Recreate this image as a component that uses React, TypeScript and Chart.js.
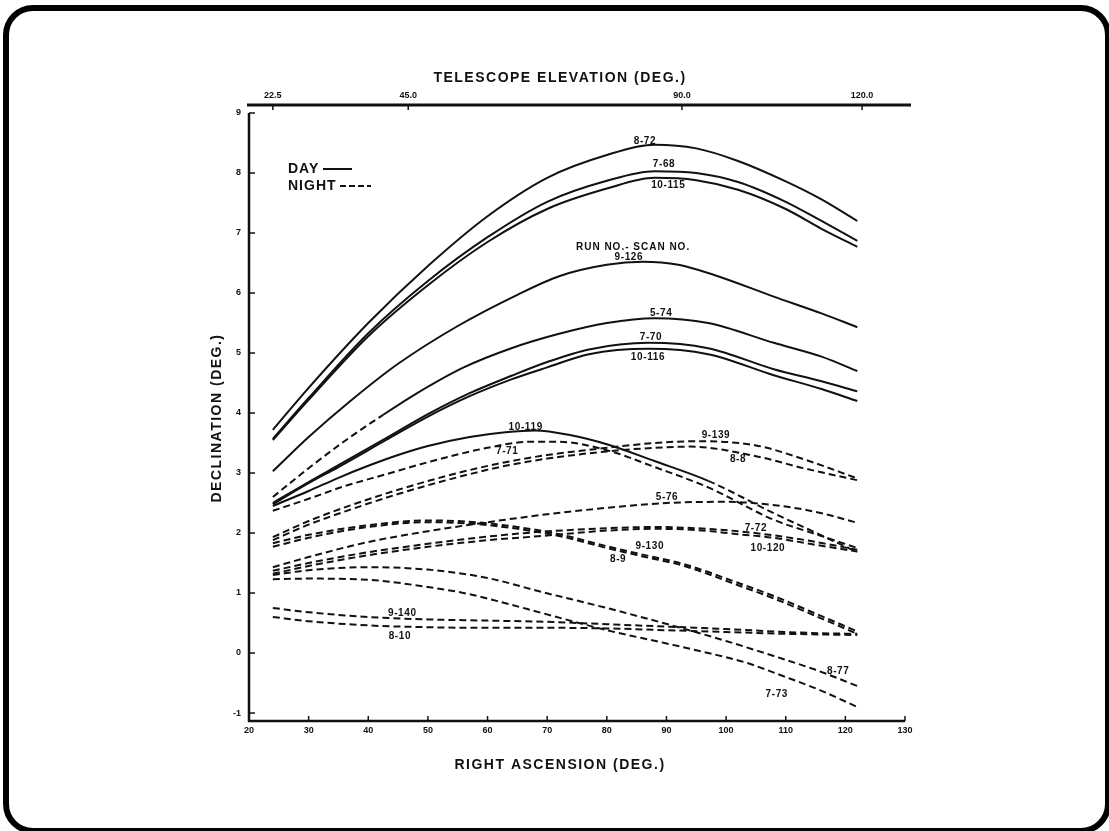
import React, { useEffect, useRef } from "react";
import { Chart, registerables } from "chart.js";

Chart.register(...registerables);

const FONT = "'Liberation Sans', Arial, sans-serif";
const INK = "#111";

// Axis ranges and ticks
const X_MIN = 20;
const X_MAX = 130;
const Y_MIN = -1.133;
const Y_MAX = 9.133;
const xTicks = [20, 30, 40, 50, 60, 70, 80, 90, 100, 110, 120, 130];
const yTicks = [-1, 0, 1, 2, 3, 4, 5, 6, 7, 8, 9];
// top axis (telescope elevation) tick positions in right-ascension units
const topTickRA = [24.0, 46.7, 92.6, 122.8];
const topTickLabels = ["22.5", "45.0", "90.0", "120.0"];

// Day curves (solid) : [right ascension, declination]
const s8_72 = [[24, 3.72], [30, 4.42], [40, 5.5], [50, 6.45], [60, 7.28], [70, 7.92], [80, 8.3], [88, 8.47], [95, 8.41], [102, 8.2], [110, 7.86], [116, 7.56], [122, 7.2]];
const s7_68 = [[24, 3.57], [30, 4.25], [40, 5.33], [50, 6.2], [60, 6.93], [70, 7.52], [80, 7.87], [88, 8.03], [95, 8.0], [102, 7.85], [110, 7.52], [116, 7.2], [122, 6.87]];
const s10_115 = [[24, 3.55], [30, 4.22], [40, 5.28], [50, 6.13], [60, 6.85], [70, 7.4], [80, 7.74], [88, 7.92], [95, 7.88], [102, 7.72], [110, 7.4], [116, 7.07], [122, 6.77]];
const s9_126 = [[24, 3.03], [30, 3.6], [37, 4.2], [45, 4.82], [55, 5.45], [65, 5.97], [72, 6.28], [80, 6.47], [86, 6.52], [92, 6.47], [98, 6.3], [108, 5.94], [116, 5.66], [122, 5.43]];
const s5_74 = [[24, 2.6], [30, 3.08], [36, 3.53], [42.5, 3.97], [48, 4.32], [56, 4.76], [64, 5.08], [72, 5.32], [80, 5.5], [88, 5.58], [97, 5.5], [108, 5.17], [116, 4.94], [122, 4.7]];
const s7_70 = [[24, 2.5], [30, 2.85], [35, 3.13], [43, 3.58], [50, 3.98], [57, 4.33], [64, 4.62], [70, 4.85], [77, 5.06], [87, 5.17], [97, 5.08], [108, 4.73], [116, 4.53], [122, 4.36]];
const s10_116 = [[24, 2.48], [30, 2.83], [35, 3.1], [43, 3.55], [50, 3.94], [57, 4.28], [64, 4.56], [70, 4.76], [77, 4.98], [87, 5.07], [97, 4.98], [108, 4.63], [116, 4.4], [122, 4.2]];
const s10_119 = [[24, 2.45], [30, 2.7], [35, 2.92], [40, 3.12], [45, 3.3], [50, 3.45], [57, 3.6], [63, 3.68], [68, 3.71], [74, 3.63], [80, 3.48], [88, 3.2], [97, 2.87], [108, 2.33], [116, 1.96], [122, 1.68]];

// Night curves (dashed)
const s7_71 = [[24, 2.37], [30, 2.57], [36, 2.78], [43, 2.98], [50, 3.18], [60, 3.42], [67, 3.52], [72, 3.52], [80, 3.38], [88, 3.1], [97, 2.76], [108, 2.22], [116, 1.95], [122, 1.75]];
const s9_139 = [[24, 1.93], [30, 2.2], [37, 2.46], [45, 2.72], [55, 3.0], [63, 3.18], [70, 3.3], [80, 3.42], [88, 3.5], [95, 3.53], [105, 3.46], [113, 3.23], [122, 2.91]];
const s8_8 = [[24, 1.88], [30, 2.14], [37, 2.39], [45, 2.65], [55, 2.93], [63, 3.12], [70, 3.24], [80, 3.36], [88, 3.42], [94, 3.44], [105, 3.28], [113, 3.08], [122, 2.88]];
const s5_76 = [[24, 1.43], [30, 1.6], [40, 1.85], [50, 2.03], [60, 2.18], [69, 2.3], [80, 2.42], [90, 2.5], [100, 2.52], [110, 2.44], [116, 2.33], [122, 2.17]];
const s7_72 = [[24, 1.37], [30, 1.5], [40, 1.68], [50, 1.82], [60, 1.94], [69, 2.02], [80, 2.08], [88, 2.1], [95, 2.08], [102, 2.03], [108, 1.96], [114, 1.87], [122, 1.72]];
const s10_120 = [[24, 1.32], [30, 1.45], [40, 1.63], [50, 1.77], [60, 1.88], [69, 1.95], [80, 2.04], [88, 2.07], [95, 2.05], [102, 1.98], [108, 1.92], [114, 1.82], [122, 1.69]];
const s9_130 = [[24, 1.83], [30, 1.97], [40, 2.13], [50, 2.21], [58, 2.18], [65, 2.1], [72, 1.98], [80, 1.78], [86, 1.64], [93, 1.48], [102, 1.17], [108, 0.95], [114, 0.7], [122, 0.36]];
const s8_9 = [[24, 1.77], [30, 1.92], [40, 2.1], [50, 2.18], [58, 2.15], [65, 2.07], [72, 1.95], [80, 1.75], [86, 1.61], [93, 1.45], [102, 1.13], [108, 0.91], [114, 0.66], [122, 0.32]];
const s8_77 = [[24, 1.3], [30, 1.38], [40, 1.43], [50, 1.39], [60, 1.25], [69, 1.02], [80, 0.75], [92, 0.43], [100, 0.2], [108, -0.05], [115, -0.28], [122, -0.55]];
const s7_73 = [[24, 1.23], [30, 1.24], [40, 1.22], [50, 1.1], [57, 0.98], [63, 0.83], [69, 0.67], [80, 0.38], [90, 0.16], [97, 0.0], [103, -0.15], [110, -0.4], [116, -0.63], [122, -0.9]];
const s9_140 = [[24, 0.75], [30, 0.68], [40, 0.6], [50, 0.56], [60, 0.54], [70, 0.52], [80, 0.48], [90, 0.44], [100, 0.4], [110, 0.35], [116, 0.33], [122, 0.32]];
const s8_10 = [[24, 0.6], [30, 0.53], [40, 0.46], [50, 0.43], [60, 0.42], [70, 0.42], [80, 0.41], [90, 0.38], [100, 0.35], [110, 0.32], [122, 0.3]];

// where day curves switch to night (dashed) portions
const DASH_BEFORE_5_74 = 42.5;
const DASH_AFTER_10_119 = 97;

const daySeries: [string, number[][]][] = [
  ["8-72", s8_72], ["7-68", s7_68], ["10-115", s10_115], ["9-126", s9_126],
  ["5-74", s5_74], ["7-70", s7_70], ["10-116", s10_116], ["10-119", s10_119],
];
const nightSeries: [string, number[][]][] = [
  ["7-71", s7_71], ["9-139", s9_139], ["8-8", s8_8], ["5-76", s5_76],
  ["7-72", s7_72], ["10-120", s10_120], ["9-130", s9_130], ["8-9", s8_9],
  ["8-77", s8_77], ["7-73", s7_73], ["9-140", s9_140], ["8-10", s8_10],
];

// Curve labels: text, right ascension, declination
const labelTexts = ["8-72", "7-68", "10-115", "RUN NO.- SCAN NO.", "9-126", "5-74", "7-70", "10-116", "10-119", "7-71", "9-139", "8-8", "5-76", "7-72", "10-120", "9-130", "8-9", "9-140", "8-10", "8-77", "7-73"];
const labelRA = [86.4, 89.6, 90.3, 84.4, 83.7, 89.1, 87.4, 86.9, 66.4, 63.3, 98.3, 102.0, 90.1, 105.0, 107.0, 87.2, 81.9, 45.7, 45.3, 118.8, 108.5];
const labelDec = [8.53, 8.15, 7.8, 6.77, 6.6, 5.67, 5.27, 4.93, 3.77, 3.37, 3.63, 3.23, 2.6, 2.08, 1.75, 1.78, 1.57, 0.67, 0.28, -0.3, -0.68];

const DASH = [7, 4];

function toXY(pts: number[][]) {
  return pts.map(([x, y]) => ({ x, y }));
}

function buildDatasets() {
  const ds: any[] = [];
  daySeries.forEach(([name, pts]) => {
    const d: any = {
      label: name,
      data: toXY(pts),
      borderColor: INK,
      borderWidth: 2,
      pointRadius: 0,
      fill: false,
      cubicInterpolationMode: "monotone",
      xAxisID: "x",
      yAxisID: "y",
    };
    if (name === "5-74") {
      d.segment = { borderDash: (c: any) => (c.p0.parsed.x < DASH_BEFORE_5_74 ? DASH : undefined) };
    }
    if (name === "10-119") {
      d.segment = { borderDash: (c: any) => (c.p0.parsed.x >= DASH_AFTER_10_119 ? DASH : undefined) };
    }
    ds.push(d);
  });
  nightSeries.forEach(([name, pts]) => {
    ds.push({
      label: name,
      data: toXY(pts),
      borderColor: INK,
      borderWidth: 2,
      borderDash: DASH,
      pointRadius: 0,
      fill: false,
      cubicInterpolationMode: "monotone",
      xAxisID: "x",
      yAxisID: "y",
    });
  });
  return ds;
}

const decorPlugin = {
  id: "decor",
  afterDatasetsDraw(chart: any) {
    const { ctx, chartArea } = chart;
    const { left, right, top, bottom } = chartArea;
    const x = chart.scales.x;
    const y = chart.scales.y;
    const line = (x1: number, y1: number, x2: number, y2: number) => {
      ctx.beginPath();
      ctx.moveTo(x1, y1);
      ctx.lineTo(x2, y2);
      ctx.stroke();
    };
    ctx.save();
    ctx.strokeStyle = INK;
    ctx.fillStyle = INK;
    ctx.setLineDash([]);
    // top elevation axis
    ctx.lineWidth = 3;
    line(left - 2, top, right + 6, top);
    ctx.lineWidth = 1.5;
    topTickRA.forEach((v) => {
      const px = x.getPixelForValue(v);
      line(px, top, px, top + 5);
    });
    // left axis
    ctx.lineWidth = 2.5;
    line(left, y.getPixelForValue(9), left, bottom + 1);
    // bottom axis
    line(left - 1, bottom, right, bottom);
    ctx.lineWidth = 1.5;
    yTicks.forEach((v) => {
      const py = y.getPixelForValue(v);
      line(left, py, left + 6, py);
    });
    xTicks.forEach((v) => {
      if (v === X_MIN) return;
      const px = x.getPixelForValue(v);
      line(px, bottom, px, bottom - 5);
    });

    // axis titles
    ctx.textAlign = "center";
    ctx.textBaseline = "middle";
    ctx.font = `bold 14px ${FONT}`;
    (ctx as any).letterSpacing = "1.5px";
    ctx.fillText("TELESCOPE ELEVATION (DEG.)", left + 311, top - 27);
    ctx.fillText("RIGHT ASCENSION (DEG.)", left + 311, bottom + 44);
    ctx.save();
    ctx.translate(left - 32, top + 313);
    ctx.rotate(-Math.PI / 2);
    ctx.fillText("DECLINATION (DEG.)", 0, 0);
    ctx.restore();

    // legend
    ctx.textAlign = "left";
    ctx.font = `bold 14px ${FONT}`;
    (ctx as any).letterSpacing = "1px";
    ctx.fillText("DAY", left + 39, top + 64);
    ctx.fillText("NIGHT", left + 39, top + 81);
    ctx.lineWidth = 2;
    line(left + 74, top + 64, left + 103, top + 64);
    ctx.setLineDash([6, 3]);
    line(left + 91, top + 81, left + 122, top + 81);
    ctx.setLineDash([]);

    // curve labels
    ctx.textAlign = "center";
    ctx.font = `bold 10px ${FONT}`;
    labelTexts.forEach((t, i) => {
      (ctx as any).letterSpacing = t.length > 8 ? "1px" : "0.6px";
      ctx.fillText(t, x.getPixelForValue(labelRA[i]), y.getPixelForValue(labelDec[i]));
    });
    (ctx as any).letterSpacing = "0px";
    ctx.restore();
  },
};

export default function App() {
  const ref = useRef<HTMLCanvasElement>(null);
  useEffect(() => {
    const canvas = ref.current;
    if (!canvas) return;
    const tickFont = { family: FONT, size: 9, weight: "bold" as const };
    const chart = new Chart(canvas, {
      type: "line",
      data: { datasets: buildDatasets() },
      options: {
        responsive: false,
        animation: false,
        devicePixelRatio: 1,
        layout: { padding: { left: 0, right: 204, top: 0, bottom: 0 } },
        plugins: {
          legend: { display: false },
          tooltip: { enabled: false },
          title: { display: false },
        },
        scales: {
          x: {
            type: "linear",
            position: "bottom",
            min: X_MIN,
            max: X_MAX,
            afterFit: (s: any) => { s.height = 110; },
            afterBuildTicks: (s: any) => { s.ticks = xTicks.map((v) => ({ value: v })); },
            ticks: { autoSkip: false, maxRotation: 0, padding: 4, color: INK, font: tickFont, callback: (v: any) => String(v) },
            grid: { display: false, drawTicks: false, tickLength: 0 },
            border: { display: false },
          },
          xTop: {
            type: "linear",
            position: "top",
            min: X_MIN,
            max: X_MAX,
            afterFit: (s: any) => { s.height = 105; },
            afterBuildTicks: (s: any) => { s.ticks = topTickRA.map((v) => ({ value: v })); },
            ticks: { autoSkip: false, maxRotation: 0, padding: 4, color: INK, font: tickFont, callback: (_v: any, i: number) => topTickLabels[i] },
            grid: { display: false, drawTicks: false, tickLength: 0 },
            border: { display: false },
          },
          y: {
            type: "linear",
            position: "left",
            min: Y_MIN,
            max: Y_MAX,
            afterFit: (s: any) => { s.width = 249; },
            afterBuildTicks: (s: any) => { s.ticks = yTicks.map((v) => ({ value: v })); },
            ticks: { autoSkip: false, padding: 8, color: INK, font: tickFont, callback: (v: any) => String(v) },
            grid: { display: false, drawTicks: false, tickLength: 0 },
            border: { display: false },
          },
        },
      } as any,
      plugins: [decorPlugin],
    });
    return () => chart.destroy();
  }, []);

  return (
    <div style={{ position: "fixed", left: 0, top: 0, width: 1109, height: 831, background: "#fff", overflow: "hidden" }}>
      <canvas ref={ref} width={1109} height={831} style={{ position: "absolute", left: 0, top: 0, width: 1109, height: 831 }} />
      <div
        style={{
          position: "absolute",
          left: 3,
          top: 5,
          width: 1108,
          height: 829,
          boxSizing: "border-box",
          border: "6px solid #000",
          borderRadius: 30,
          pointerEvents: "none",
        }}
      />
    </div>
  );
}
